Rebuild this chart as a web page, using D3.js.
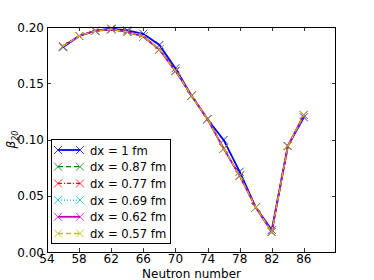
<!DOCTYPE html>
<html>
<head>
<meta charset="utf-8">
<script src="https://cdn.jsdelivr.net/npm/d3@7"></script>
<style>
  body { margin: 0; background: #fff; }
  svg { display: block; font-family: "DejaVu Sans", sans-serif; }
</style>
</head>
<body>
<svg id="chart" width="374" height="280"></svg>
<script>
// neutron numbers
const neutrons = [56, 58, 60, 62, 64, 66, 68, 70, 72, 74, 76, 78, 80, 82, 84, 86];

// beta_20 for each mesh spacing
const dx100 = [0.182, 0.192, 0.1967, 0.1985, 0.197, 0.194, 0.184, 0.1633, 0.139, 0.118, 0.0996, 0.0714, 0.0397, 0.0196, 0.0942, 0.1197];
const dx087 = [0.183, 0.192, 0.1965, 0.198, 0.1956, 0.1914, 0.180, 0.161, 0.139, 0.118, 0.092, 0.0679, 0.0397, 0.0178, 0.0942, 0.1218];
const dx077 = [0.183, 0.192, 0.1965, 0.198, 0.1956, 0.1914, 0.180, 0.161, 0.139, 0.118, 0.092, 0.0679, 0.0397, 0.0178, 0.0942, 0.1218];
const dx069 = [0.183, 0.192, 0.1965, 0.198, 0.1956, 0.1914, 0.180, 0.161, 0.139, 0.118, 0.092, 0.0679, 0.0397, 0.0178, 0.0942, 0.1218];
const dx062 = [0.183, 0.192, 0.1965, 0.198, 0.1956, 0.1914, 0.180, 0.161, 0.139, 0.118, 0.092, 0.0679, 0.0397, 0.0178, 0.0942, 0.1218];
const dx057 = [0.183, 0.192, 0.1965, 0.198, 0.1956, 0.1914, 0.180, 0.161, 0.139, 0.118, 0.092, 0.0679, 0.0397, 0.0178, 0.0942, 0.1218];

const seriesLabels = ["dx = 1 fm", "dx = 0.87 fm", "dx = 0.77 fm", "dx = 0.69 fm", "dx = 0.62 fm", "dx = 0.57 fm"];
const xTicks = [54, 58, 62, 66, 70, 74, 78, 82, 86];
const yTicks = [0.00, 0.05, 0.10, 0.15, 0.20];

// matplotlib classic look
const styles = [
  { color: "#0000ff", dash: null, width: 1.8 },
  { color: "#008000", dash: "5,3", width: 1.3 },
  { color: "#ff0000", dash: "4,2,1,2", width: 1.3 },
  { color: "#00bfbf", dash: "1,2", width: 1.3 },
  { color: "#bf00bf", dash: null, width: 1.8 },
  { color: "#bfbf00", dash: "5,3", width: 1.3 }
];
const allSeries = [dx100, dx087, dx077, dx069, dx062, dx057];

const mLeft = 47, mRight = 336, mTop = 27, mBottom = 252;
const svg = d3.select("#chart");

const x = d3.scaleLinear().domain([54, 90]).range([mLeft, mRight]);
const y = d3.scaleLinear().domain([0, 0.2]).range([mBottom, mTop]);

// ticks, inward on all sides
const ticks = svg.append("g").attr("stroke", "#000").attr("stroke-width", 0.8);
xTicks.forEach(t => {
  const px = Math.round(x(t)) + 0.5;
  ticks.append("line").attr("x1", px).attr("x2", px).attr("y1", mBottom).attr("y2", mBottom - 4);
  ticks.append("line").attr("x1", px).attr("x2", px).attr("y1", mTop).attr("y2", mTop + 4);
});
yTicks.forEach(t => {
  const py = Math.round(y(t)) + 0.5;
  ticks.append("line").attr("x1", mLeft).attr("x2", mLeft + 4).attr("y1", py).attr("y2", py);
  ticks.append("line").attr("x1", mRight).attr("x2", mRight - 4).attr("y1", py).attr("y2", py);
});

// tick labels
svg.append("g").selectAll("text").data(xTicks).join("text")
  .attr("x", d => x(d)).attr("y", 263)
  .attr("text-anchor", "middle").attr("font-size", 12)
  .text(d => d);
svg.append("g").selectAll("text").data(yTicks).join("text")
  .attr("x", mLeft - 3).attr("y", d => y(d) + 4.5)
  .attr("text-anchor", "end").attr("font-size", 12)
  .text(d => d3.format(".2f")(d));

// axis labels
svg.append("text").attr("x", (mLeft + mRight) / 2).attr("y", 278)
  .attr("text-anchor", "middle").attr("font-size", 12).text("Neutron number");
const yl = svg.append("text")
  .attr("transform", `translate(15,${(mTop + mBottom) / 2}) rotate(-90)`)
  .attr("text-anchor", "middle").attr("font-size", 12).attr("font-style", "italic");
yl.append("tspan").text("β");
yl.append("tspan").attr("font-size", 8).attr("dy", 3).text("20");

// series
const line = d3.line().x((d, i) => x(neutrons[i])).y(d => y(d));
allSeries.forEach((vals, k) => {
  const st = styles[k];
  const g = svg.append("g");
  g.append("path").datum(vals)
    .attr("d", line).attr("fill", "none")
    .attr("stroke", st.color).attr("stroke-width", st.width)
    .attr("stroke-dasharray", st.dash);
  g.selectAll("path.mk").data(vals).join("path").attr("class", "mk")
    .attr("d", (d, i) => {
      const cx = x(neutrons[i]), cy = y(d), r = 4;
      return `M${cx - r},${cy - r}L${cx + r},${cy + r}M${cx - r},${cy + r}L${cx + r},${cy - r}`;
    })
    .attr("stroke", st.color).attr("stroke-width", 0.8).attr("fill", "none");
});

// frame
svg.append("rect").attr("x", mLeft + 0.5).attr("y", mTop + 0.5)
  .attr("width", mRight - mLeft - 1).attr("height", mBottom - mTop)
  .attr("fill", "none").attr("stroke", "#000").attr("stroke-width", 1);

// legend
const lg = svg.append("g");
lg.append("rect").attr("x", 51.5).attr("y", 139.5).attr("width", 119).attr("height", 104)
  .attr("fill", "#fff").attr("stroke", "#000").attr("stroke-width", 1);
seriesLabels.forEach((lab, k) => {
  const st = styles[k];
  const ly = 150 + k * 16.7;
  lg.append("line").attr("x1", 58).attr("x2", 80).attr("y1", ly).attr("y2", ly)
    .attr("stroke", st.color).attr("stroke-width", st.width).attr("stroke-dasharray", st.dash);
  [58, 80].forEach(cx => {
    const r = 4;
    lg.append("path")
      .attr("d", `M${cx - r},${ly - r}L${cx + r},${ly + r}M${cx - r},${ly + r}L${cx + r},${ly - r}`)
      .attr("stroke", st.color).attr("stroke-width", 0.8);
  });
  lg.append("text").attr("x", 90).attr("y", ly + 4.5).attr("font-size", 11.6).text(lab);
});
</script>
</body>
</html>
